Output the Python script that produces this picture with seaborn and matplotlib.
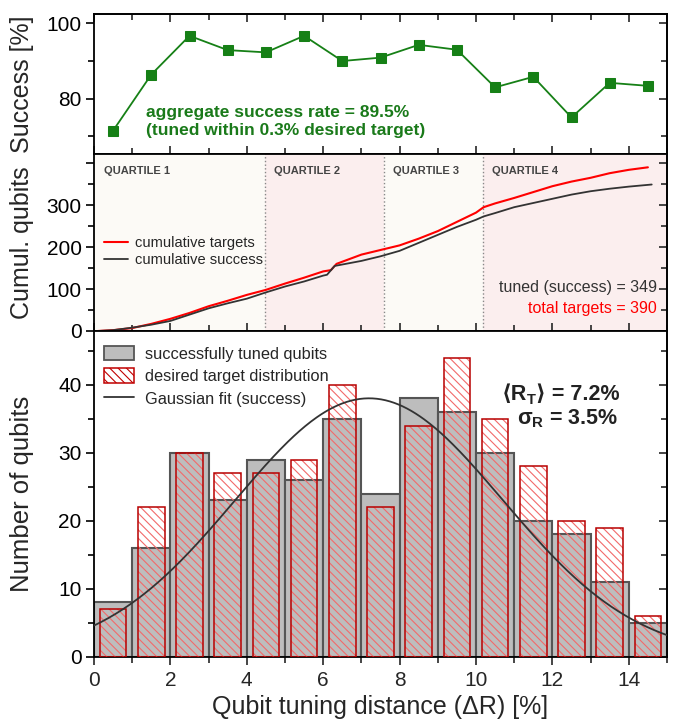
import numpy as np
import pandas as pd
import matplotlib
matplotlib.use("Agg")
import matplotlib.pyplot as plt
import seaborn as sns
from matplotlib import font_manager, ft2font
from matplotlib.ticker import MultipleLocator
from matplotlib.patches import Patch
from matplotlib.lines import Line2D

# ---------------- data ----------------
bin_edges = [0, 1, 2, 3, 4, 5, 6, 7, 8, 9, 10, 11, 12, 13, 14, 15]
bin_centers = [0.5, 1.5, 2.5, 3.5, 4.5, 5.5, 6.5, 7.5, 8.5, 9.5, 10.5, 11.5, 12.5, 13.5, 14.5]
success_rate = [71.5, 86.4, 96.7, 92.9, 92.3, 96.7, 90.0, 90.9, 94.3, 93.0, 83.0, 85.8, 75.0, 84.2, 83.4]
success_counts = [8, 16, 30, 23, 29, 26, 35, 24, 38, 36, 30, 20, 18, 11, 5]
target_counts = [7, 22, 30, 27, 27, 29, 40, 22, 34, 44, 35, 28, 20, 19, 6]

cum_target_x = [0.1, 0.5, 1.0, 1.5, 2.0, 2.5, 3.0, 3.5, 4.0, 4.5, 5.0, 5.5, 6.0, 6.2, 6.35, 7.0,
                7.5, 8.0, 8.5, 9.0, 9.5, 10.0, 10.2, 10.5, 11.0, 11.5, 12.0, 12.5, 13.0, 13.5, 14.0, 14.5]
cum_target_y = [0, 2, 7, 17, 29, 43, 59, 72, 86, 98, 113, 127, 142, 145, 160, 182,
                193, 204, 220, 238, 260, 282, 295, 304, 317, 331, 345, 356, 365, 376, 384, 390]
cum_success_x = [0.1, 0.5, 1.0, 1.5, 2.0, 2.5, 3.0, 3.5, 4.0, 4.5, 5.0, 5.5, 6.0, 6.1, 6.3, 7.0,
                 7.5, 8.0, 8.5, 9.0, 9.5, 10.0, 10.2, 10.5, 11.0, 11.5, 12.0, 12.5, 13.0, 13.5, 14.0, 14.6]
cum_success_y = [0, 2, 8, 15, 24, 39, 54, 66, 77, 92, 106, 118, 132, 134, 155, 167,
                 178, 191, 210, 229, 248, 265, 273, 281, 295, 305, 315, 325, 333, 339, 344, 349]

quartile_bounds = [0, 4.47, 7.58, 10.18, 15]
quartile_labels = ["QUARTILE 1", "QUARTILE 2", "QUARTILE 3", "QUARTILE 4"]

gauss_mean = 7.2
gauss_sigma = 3.5
gauss_amp = 38.0

cum_yticks = [0, 100, 200, 300, 400]
cum_yticklabels = ["0", "100", "200", "300", ""]

# ---------------- style ----------------
sns.set_theme(style="ticks")
plt.rcParams["font.family"] = ["Liberation Sans", "DejaVu Sans"]
plt.rcParams["mathtext.fontset"] = "custom"
plt.rcParams["mathtext.rm"] = "Liberation Sans"
plt.rcParams["mathtext.bf"] = "Liberation Sans:bold"
plt.rcParams["mathtext.it"] = "Liberation Sans:italic"
plt.rcParams["hatch.linewidth"] = 0.8
plt.rcParams["axes.linewidth"] = 1.3


def family_with_glyph(chars, weight="bold"):
    for fam in ["DejaVu Sans", "Noto Sans", "Noto Sans CJK SC", "Open Sans", "Lato", "Inter", "Roboto"]:
        try:
            path = font_manager.findfont(font_manager.FontProperties(family=fam, weight=weight),
                                         fallback_to_default=False)
            cmap = ft2font.FT2Font(path).get_charmap()
            if all(ord(c) in cmap for c in chars):
                return fam
        except Exception:
            pass
    return None


bracket_family = family_with_glyph("\u27e8\u27e9")

GREEN = "#168016"
RED = "#ff0000"
DARK = "#333333"
TICKFS = 15
LABFS = 18

fig = plt.figure(figsize=(6.88, 7.21), dpi=100)
W, H = 688.0, 721.0
L, R = 94, 667


def rect(top, bottom):
    return [L / W, 1 - bottom / H, (R - L) / W, (bottom - top) / H]


ax1 = fig.add_axes(rect(14, 154.3))
ax2 = fig.add_axes(rect(154.3, 331))
ax3 = fig.add_axes(rect(331, 656.7))


def style_axis(ax, ymaj, ymin, top_ticks, bottom_in, xlabels):
    ax.set_xlim(0, 15)
    ax.xaxis.set_major_locator(MultipleLocator(2))
    ax.xaxis.set_minor_locator(MultipleLocator(1))
    ax.yaxis.set_major_locator(MultipleLocator(ymaj))
    ax.yaxis.set_minor_locator(MultipleLocator(ymin))
    ax.tick_params(axis="y", which="both", direction="out", width=1.2, colors="black",
                   labelsize=TICKFS, pad=3)
    ax.tick_params(axis="y", which="major", length=6)
    ax.tick_params(axis="y", which="minor", length=4)
    ax.tick_params(axis="x", which="both", direction="in" if bottom_in else "out", width=1.2,
                   labelbottom=xlabels, labelsize=TICKFS, pad=4)
    ax.tick_params(axis="x", which="major", length=6)
    ax.tick_params(axis="x", which="minor", length=4)
    sec = ax.secondary_yaxis("right")
    sec.yaxis.set_major_locator(MultipleLocator(ymaj))
    sec.yaxis.set_minor_locator(MultipleLocator(ymin))
    sec.tick_params(which="both", direction="in", labelright=False, width=1.2)
    sec.tick_params(which="major", length=6)
    sec.tick_params(which="minor", length=4)
    if top_ticks:
        sx = ax.secondary_xaxis("top")
        sx.xaxis.set_major_locator(MultipleLocator(2))
        sx.xaxis.set_minor_locator(MultipleLocator(1))
        sx.tick_params(which="both", direction="in", labeltop=False, width=1.2)
        sx.tick_params(which="major", length=6)
        sx.tick_params(which="minor", length=4)
    for s in ax.spines.values():
        s.set_visible(True)
        s.set_linewidth(1.3)
        s.set_color("black")


# ---------------- top panel ----------------
df_top = pd.DataFrame({"x": bin_centers, "rate": success_rate})
sns.lineplot(data=df_top, x="x", y="rate", ax=ax1, color=GREEN, marker="s", markersize=7,
             markeredgecolor=GREEN, linewidth=1.3)
ax1.set_ylim(65.2, 102.5)
style_axis(ax1, 20, 10, True, True, False)
ax1.set_xlabel("")
ax1.set_ylabel("Success [%]", fontsize=LABFS)
ax1.text(0.09, 0.235, "aggregate success rate = 89.5%\n(tuned within 0.3% desired target)",
         transform=ax1.transAxes, color="#1a7a1a", fontsize=12.5, fontweight="bold",
         va="center", ha="left", linespacing=1.2)

# ---------------- middle panel ----------------
for i in range(4):
    ax2.axvspan(quartile_bounds[i], quartile_bounds[i + 1],
                color="#fcfaf6" if i % 2 == 0 else "#fbeeee", zorder=0, lw=0)
    if 0 < i:
        ax2.axvline(quartile_bounds[i], color="#888888", ls=":", lw=1.0, zorder=1)
    ax2.text(quartile_bounds[i] + 0.25, 0.905, quartile_labels[i], transform=ax2.get_xaxis_transform(),
             fontsize=8, fontweight="bold", color="#444444", va="center", ha="left")

df_ct = pd.DataFrame({"x": cum_target_x, "y": cum_target_y})
df_cs = pd.DataFrame({"x": cum_success_x, "y": cum_success_y})
sns.lineplot(data=df_ct, x="x", y="y", ax=ax2, color=RED, linewidth=1.5, zorder=3,
             label="cumulative targets")
sns.lineplot(data=df_cs, x="x", y="y", ax=ax2, color=DARK, linewidth=1.3, zorder=3,
             label="cumulative success")
ax2.set_ylim(0, 421)
style_axis(ax2, 100, 50, False, True, False)
ax2.set_yticks(cum_yticks)
ax2.set_yticklabels(cum_yticklabels)
ax2.set_xlabel("")
ax2.set_ylabel("Cumul. qubits", fontsize=LABFS)
ax2.legend(loc="center left", bbox_to_anchor=(0.0, 0.45), frameon=False, fontsize=10.5,
           handlelength=1.6, handletextpad=0.5, labelspacing=0.25, borderaxespad=0.3)
ax2.text(0.982, 0.245, "tuned (success) = 349", transform=ax2.transAxes, ha="right", va="center",
         fontsize=11.5, color="#333333")
ax2.text(0.982, 0.125, "total targets = 390", transform=ax2.transAxes, ha="right", va="center",
         fontsize=11.5, color=RED)

# ---------------- bottom panel ----------------
sns.histplot(x=bin_centers, weights=success_counts, bins=bin_edges, ax=ax3, color="#bdbdbd",
             edgecolor="#555555", linewidth=1.5, alpha=1.0, zorder=2)
sns.histplot(x=bin_centers, weights=target_counts, bins=bin_edges, ax=ax3, shrink=0.7, fill=False,
             color="#f26a6a", linewidth=0, hatch="\\\\\\\\", zorder=3)
sns.histplot(x=bin_centers, weights=target_counts, bins=bin_edges, ax=ax3, shrink=0.7, fill=False,
             color="#b80000", linewidth=1.1, zorder=4)
xg = np.linspace(0, 15, 400)
yg = gauss_amp * np.exp(-(xg - gauss_mean) ** 2 / (2 * gauss_sigma ** 2))
sns.lineplot(x=xg, y=yg, ax=ax3, color=DARK, linewidth=1.3, zorder=5)
ax3.set_ylim(0, 47.9)
style_axis(ax3, 10, 5, False, False, True)
ax3.set_xlabel("Qubit tuning distance (\u0394R) [%]", fontsize=LABFS, labelpad=4)
ax3.set_ylabel("Number of qubits", fontsize=18.5)

handles = [Patch(facecolor="#bdbdbd", edgecolor="#555555", linewidth=1.3),
           Patch(facecolor="white", edgecolor="#c00000", hatch="\\\\\\\\", linewidth=1.1),
           Line2D([0], [0], color=DARK, lw=1.3)]
labels = ["successfully tuned qubits", "desired target distribution", "Gaussian fit (success)"]
ax3.legend(handles, labels, loc="upper left", bbox_to_anchor=(-0.005, 0.995), frameon=False,
           fontsize=11.8, handlelength=1.8, handleheight=1.0, handletextpad=0.7,
           labelspacing=0.4, borderaxespad=0.4)

# <R_T> = 7.2% built from plain-text pieces so the angle brackets can use a font fallback
lb, rb = ("\u27e8", "\u27e9") if bracket_family else ("\u2329", "\u232a")
fam = ["Liberation Sans", bracket_family or "DejaVu Sans"]
kw = dict(family=fam, fontweight="bold", color="#222222")
t1 = ax3.text(0.712, 0.787, lb + "R", transform=ax3.transAxes, ha="left", va="baseline",
              fontsize=15.5, **kw)
t2 = ax3.annotate("T", xy=(1, 0), xycoords=t1, xytext=(0, 1), textcoords="offset points",
                  ha="left", va="baseline", fontsize=10.5, **kw)
ax3.annotate(rb + " = 7.2%", xy=(1, 0), xycoords=(t2, t1), xytext=(0, 0),
             textcoords="offset points", ha="left", va="bottom", fontsize=15.5, **kw)
ax3.text(0.915, 0.73, "\u03c3$_\\mathbf{R}$ = 3.5%", transform=ax3.transAxes, ha="right",
         va="center", fontsize=15.5, fontweight="bold", color="#222222")

for ax in (ax1, ax2, ax3):
    ax.yaxis.set_label_coords(-0.105, 0.5)

fig.savefig("out.png", dpi=100, facecolor="white")
